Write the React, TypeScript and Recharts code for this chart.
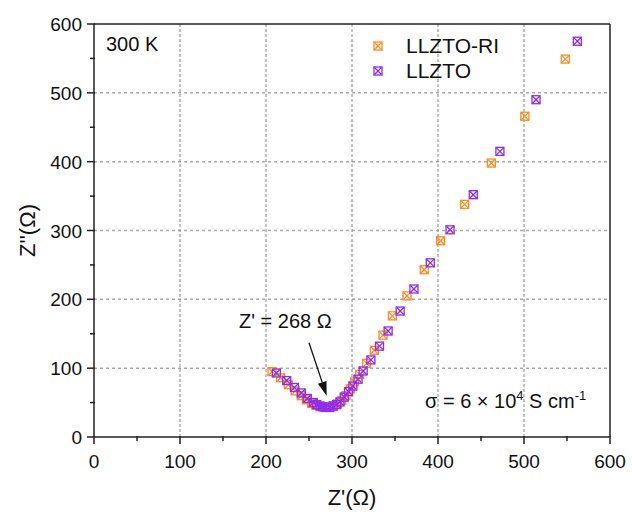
import { ScatterChart, Scatter, XAxis, YAxis, ReferenceLine } from 'recharts'

// Nyquist data (Z', Z'') in ohm
const llztoRi = [
  [207, 95], [217, 86], [226, 76], [234, 67], [241, 60], [247, 54], [253, 49], [258, 46],
  [263, 44], [268, 43], [273, 43], [278, 45], [283, 48], [288, 53], [293, 60], [298, 70],
  [303, 80], [309, 91], [317, 107], [326, 126], [336, 148], [347, 176], [364, 205],
  [384, 243], [403, 285], [431, 338], [462, 398], [501, 466], [548, 549],
]
const llzto = [
  [212, 93], [224, 82], [233, 72], [241, 64], [248, 56], [255, 50], [259, 47], [263, 45],
  [266, 44], [270, 43], [274, 43], [278, 45], [282, 47], [286, 51], [291, 58], [296, 66],
  [301, 74], [307, 84], [313, 96], [322, 112], [332, 132], [342, 154], [356, 183],
  [372, 215], [391, 253], [414, 301], [441, 352], [472, 415], [514, 490], [562, 575],
]
const ticks = [0, 50, 100, 150, 200, 250, 300, 350, 400, 450, 500, 550, 600]
const gridValues = [100, 200, 300, 400, 500]

const ORANGE = '#FF8C1E'
const PURPLE = '#8F2CF2'
const FONT = '"Liberation Sans", Arial, sans-serif'

const toPoints = (arr: number[][]) => arr.map(([x, y]) => ({ x, y }))

const marker = (color: string) => (props: any) => {
  const { cx, cy } = props
  const h = 4
  return (
    <g stroke={color} strokeWidth={1.3} fill="none">
      <rect x={cx - h} y={cy - h} width={h * 2} height={h * 2} />
      <line x1={cx - h} y1={cy - h} x2={cx + h} y2={cy + h} />
      <line x1={cx - h} y1={cy + h} x2={cx + h} y2={cy - h} />
    </g>
  )
}

const XTick = (props: any) => {
  const { x, y, payload } = props
  const major = payload.value % 100 === 0
  return (
    <g>
      <line x1={x} x2={x} y1={y - 1} y2={y + (major ? 7 : 4)} stroke="#222" strokeWidth={1.5} />
      {major && (
        <text x={x} y={y + 31} textAnchor="middle" fontSize={19} fontFamily={FONT} fill="#111">
          {payload.value}
        </text>
      )}
    </g>
  )
}

const YTick = (props: any) => {
  const { x, y, payload } = props
  const major = payload.value % 100 === 0
  return (
    <g>
      <line x1={x + 1} x2={x - (major ? 7 : 4)} y1={y} y2={y} stroke="#222" strokeWidth={1.5} />
      {major && (
        <text x={x - 12} y={y + 7} textAnchor="end" fontSize={19} fontFamily={FONT} fill="#111">
          {payload.value}
        </text>
      )}
    </g>
  )
}

const Arrow = (props: any) => {
  const { x1, y1, x2, y2 } = props
  const dx = x2 - x1
  const dy = y2 - y1
  const len = Math.sqrt(dx * dx + dy * dy)
  const ux = dx / len
  const uy = dy / len
  const hl = 14
  const hw = 4.5
  const bx = x2 - ux * hl
  const by = y2 - uy * hl
  return (
    <g>
      <line x1={x1} y1={y1} x2={bx} y2={by} stroke="#111" strokeWidth={1.3} />
      <polygon
        points={`${x2},${y2} ${bx - uy * hw},${by + ux * hw} ${bx + uy * hw},${by - ux * hw}`}
        fill="#111"
      />
    </g>
  )
}

const series = [
  { name: 'LLZTO-RI', color: ORANGE },
  { name: 'LLZTO', color: PURPLE },
]

export default function App() {
  return (
    <div style={{ position: 'absolute', left: 0, top: 0, width: 632, height: 516, background: '#fff' }}>
      <ScatterChart width={632} height={516} margin={{ top: 24, right: 22, bottom: 0, left: 0 }}>
        {gridValues.map((v) => (
          <ReferenceLine key={'h' + v} y={v} stroke="#aaa" strokeWidth={1.5} strokeDasharray="3 3" />
        ))}
        {gridValues.map((v) => (
          <ReferenceLine key={'v' + v} x={v} stroke="#888" strokeWidth={1} strokeDasharray="3 2" />
        ))}
        <ReferenceLine y={600} stroke="#222" strokeWidth={1.5} />
        <ReferenceLine x={600} stroke="#222" strokeWidth={1.5} />
        <XAxis
          type="number"
          dataKey="x"
          domain={[0, 600]}
          ticks={ticks}
          interval={0}
          tickSize={0}
          tickMargin={0}
          tickLine={false}
          tick={<XTick />}
          axisLine={{ stroke: '#222', strokeWidth: 1.5 }}
          height={79}
          allowDataOverflow
          label={{ value: "Z'(Ω)", position: 'insideBottom', offset: 11, fontSize: 22, fontFamily: FONT, fill: '#111' }}
        />
        <YAxis
          type="number"
          dataKey="y"
          domain={[0, 600]}
          ticks={ticks}
          interval={0}
          tickSize={0}
          tickMargin={0}
          tickLine={false}
          tick={<YTick />}
          axisLine={{ stroke: '#222', strokeWidth: 1.5 }}
          width={94}
          allowDataOverflow
          label={{
            content: (p: any) => {
              const vb = p.viewBox
              const cx = vb.x + 27
              const cy = vb.y + vb.height / 2
              return (
                <text
                  x={cx}
                  y={cy}
                  transform={`rotate(-90 ${cx} ${cy})`}
                  textAnchor="middle"
                  dominantBaseline="central"
                  fontSize={22}
                  fontFamily={FONT}
                  fill="#111"
                >
                  Z''(Ω)
                </text>
              )
            },
          }}
        />
        <ReferenceLine
          segment={[{ x: 250, y: 137 }, { x: 270.5, y: 60 }]}
          shape={<Arrow />}
        />
        <Scatter name="LLZTO-RI" data={toPoints(llztoRi)} shape={marker(ORANGE)} isAnimationActive={false} />
        <Scatter name="LLZTO" data={toPoints(llzto)} shape={marker(PURPLE)} isAnimationActive={false} />
      </ScatterChart>
      <div style={{ position: 'absolute', left: 372, top: 33, fontFamily: FONT, fontSize: 21, color: '#111' }}>
        {series.map((s) => (
          <div key={s.name} style={{ display: 'flex', alignItems: 'center', height: 25 }}>
            <svg width={12} height={12} style={{ marginRight: 22 }}>
              {marker(s.color)({ cx: 6, cy: 6 })}
            </svg>
            <span>{s.name}</span>
          </div>
        ))}
      </div>
      <div style={{ position: 'absolute', left: 106, top: 33, fontFamily: FONT, fontSize: 20, color: '#111' }}>
        300 K
      </div>
      <div style={{ position: 'absolute', left: 239, top: 310, fontFamily: FONT, fontSize: 20, color: '#111', whiteSpace: 'nowrap' }}>
        Z' = 268 Ω
      </div>
      <div style={{ position: 'absolute', left: 425, top: 388, fontFamily: FONT, fontSize: 20, color: '#111', whiteSpace: 'nowrap' }}>
        σ = 6 × 10<sup style={{ fontSize: 13 }}>4</sup> S cm<sup style={{ fontSize: 13 }}>-1</sup>
      </div>
    </div>
  )
}
